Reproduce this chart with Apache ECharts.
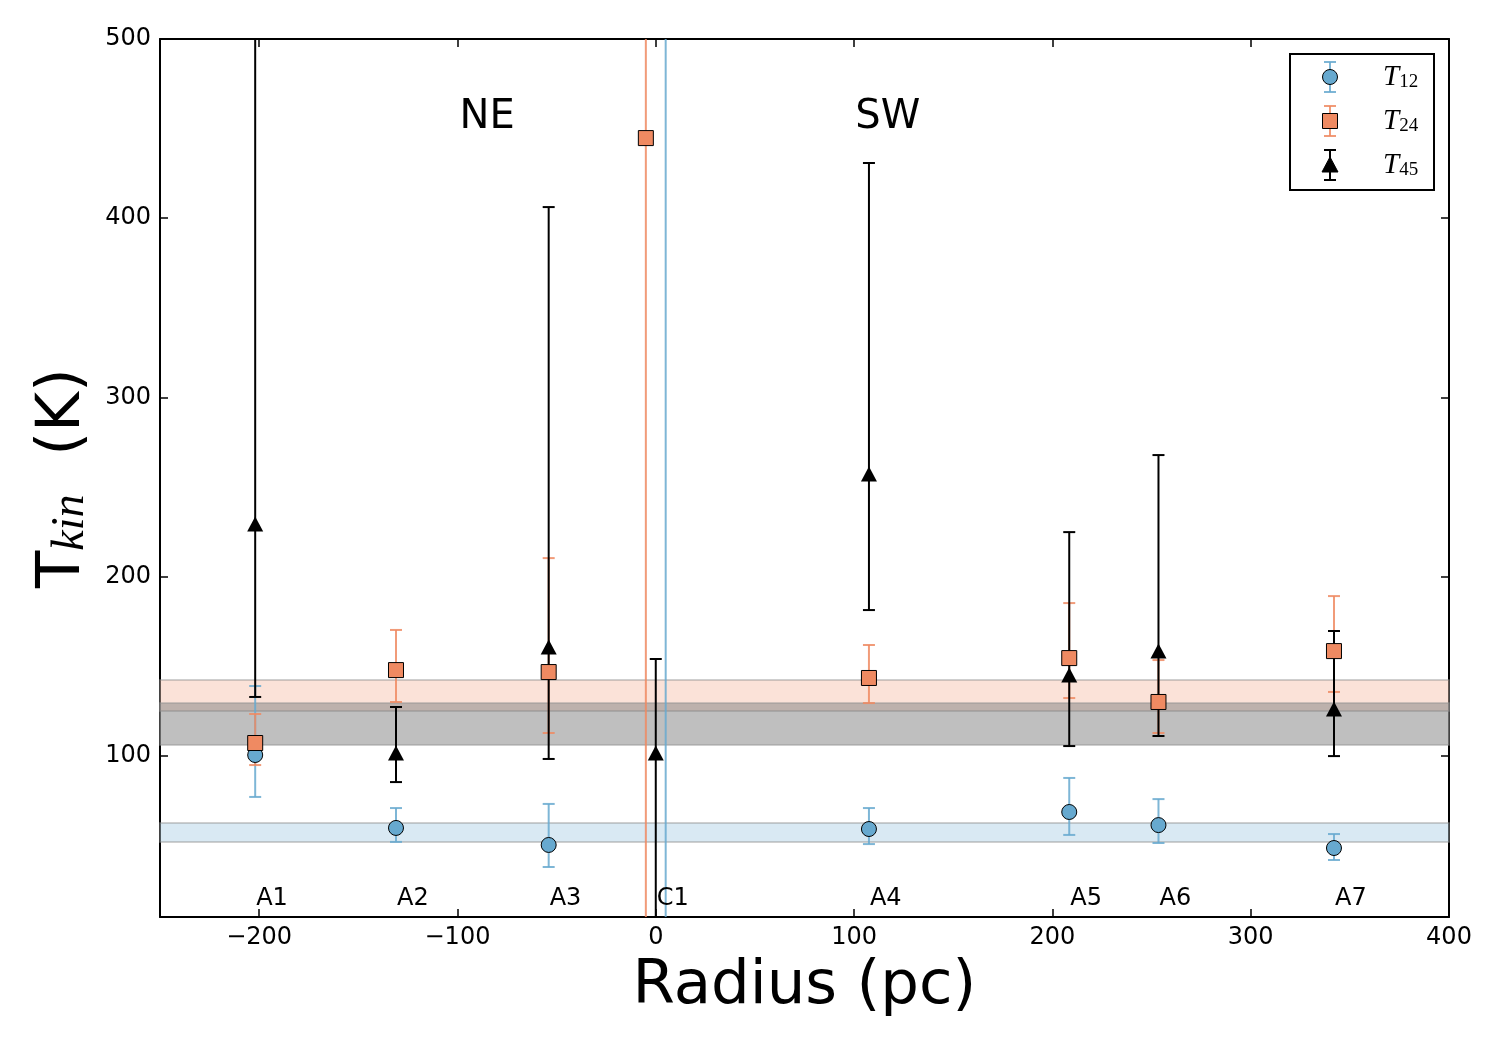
<!DOCTYPE html>
<html>
<head>
<meta charset="utf-8">
<title>Tkin vs radius</title>
<script src="https://cdn.jsdelivr.net/npm/echarts@6/dist/echarts.min.js"></script>
<style>
  html, body { margin: 0; padding: 0; background: #fff; }
  #chart { width: 1500px; height: 1050px; }
</style>
</head>
<body>
<div id="chart"></div>
<script>
// region names and the radius (pc) of each one
const regions = ['A1', 'A2', 'A3', 'C1', 'A4', 'A5', 'A6', 'A7'];
const xT12 = [-202, -131, -54, 5, 107.5, 208.5, 253.5, 342];
const xT24 = [-202, -131, -54, -5, 107.5, 208.5, 253.5, 342];
const xT45 = [-202, -131, -54, 0, 107.5, 208.5, 253.5, 342];

// kinetic temperatures (K) and their error bar ends
const t12 = [100.4, 59.7, 50.2, null, 59.1, 68.6, 61.3, 48.5];
const t12Lo = [77, 51.9, 37.9, -100, 50.7, 55.8, 51.3, 41.8];
const t12Hi = [138.9, 70.8, 73.1, 1000, 70.8, 87.6, 75.8, 56.3];

const t24 = [107.1, 147.8, 146.7, 444.7, 143.4, 154.5, 130, 158.4];
const t24Lo = [94.8, 130, 112.7, -100, 129.4, 132.2, 112.7, 135.6];
const t24Hi = [123.3, 170.2, 210.3, 1000, 161.8, 185.2, 153.4, 189.1];

const t45 = [229.3, 101.5, 160.7, 101.5, 257.2, 145, 158.4, 126.1];
const t45Lo = [132.8, 85.3, 98.2, -100, 181.3, 105.4, 111, 99.8];
const t45Hi = [600, 127.2, 406.2, 154, 430.8, 224.8, 267.8, 169.6];

// mean temperature bands [low, high]
const bandT12 = [51.9, 62.5];
const bandT24 = [125, 142.3];
const bandT45 = [106, 129.4];

// side labels
const sides = ['NE', 'SW'];
const sideX = [-85, 117];
const sideY = 456;
const regionLabelY = 20;

const xTicks = [-200, -100, 0, 100, 200, 300, 400];
const yTicks = [100, 200, 300, 400, 500];
const xMin = -250, xMax = 400, yMin = 10, yMax = 500;

const BLUE = '#67a9cf';
const ORANGE = '#ef8a62';
const FONT = 'DejaVu Sans';
const MATH = 'Liberation Serif';

function minus(v) {
  return String(v).replace('-', '\u2212');
}

function errRows(xs, lo, hi) {
  return xs.map((x, i) => [x, lo[i], hi[i]]);
}

function pts(xs, vs) {
  return xs.map((x, i) => [x, vs[i]]).filter(p => p[1] != null);
}

function errRender(color, width, opacity) {
  return function (params, api) {
    const x = api.value(0);
    const lo = api.value(1);
    const hi = api.value(2);
    const a = api.coord([x, Math.max(lo, yMin)]);
    const b = api.coord([x, Math.min(hi, yMax)]);
    const style = { stroke: color, lineWidth: width, opacity: opacity };
    const cap = 6;
    const kids = [{ type: 'line', shape: { x1: a[0], y1: a[1], x2: b[0], y2: b[1] }, style: style }];
    if (lo >= yMin) kids.push({ type: 'line', shape: { x1: a[0] - cap, y1: a[1], x2: a[0] + cap, y2: a[1] }, style: style });
    if (hi <= yMax) kids.push({ type: 'line', shape: { x1: b[0] - cap, y1: b[1], x2: b[0] + cap, y2: b[1] }, style: style });
    return { type: 'group', children: kids };
  };
}

function axisFrame(pos, isX) {
  return {
    type: 'value',
    position: pos,
    min: isX ? xMin : yMin,
    max: isX ? xMax : yMax,
    axisLine: { show: true, onZero: false, lineStyle: { color: '#000', width: 2 } },
    axisTick: { show: true, inside: true, length: 8, customValues: isX ? xTicks : yTicks, lineStyle: { color: '#000', width: 1.5 } },
    axisLabel: { show: false },
    splitLine: { show: false }
  };
}

// legend drawn by hand so that each key shows its error bar
const legendRows = [
  { sub: '12', color: BLUE, shape: 'circle', cy: 77 },
  { sub: '24', color: ORANGE, shape: 'square', cy: 121 },
  { sub: '45', color: '#000', shape: 'triangle', cy: 165 }
];
const legendGraphics = [{
  type: 'rect',
  shape: { x: 1290, y: 54, width: 144, height: 136 },
  style: { fill: '#fff', stroke: '#000', lineWidth: 2 },
  z: 100
}];
legendRows.forEach(r => {
  const cx = 1330, cy = r.cy;
  const es = { stroke: r.color, lineWidth: 2, opacity: r.shape === 'triangle' ? 1 : 0.85 };
  legendGraphics.push({ type: 'line', shape: { x1: cx, y1: cy - 15, x2: cx, y2: cy + 15 }, style: es, z: 101 });
  legendGraphics.push({ type: 'line', shape: { x1: cx - 6, y1: cy - 15, x2: cx + 6, y2: cy - 15 }, style: es, z: 101 });
  legendGraphics.push({ type: 'line', shape: { x1: cx - 6, y1: cy + 15, x2: cx + 6, y2: cy + 15 }, style: es, z: 101 });
  const ms = { fill: r.color, stroke: '#000', lineWidth: 1 };
  if (r.shape === 'circle') {
    legendGraphics.push({ type: 'circle', shape: { cx: cx, cy: cy, r: 7.5 }, style: ms, z: 102 });
  } else if (r.shape === 'square') {
    legendGraphics.push({ type: 'rect', shape: { x: cx - 7.5, y: cy - 7.5, width: 15, height: 15 }, style: ms, z: 102 });
  } else {
    legendGraphics.push({ type: 'polygon', shape: { points: [[cx, cy - 8], [cx - 8, cy + 7], [cx + 8, cy + 7]] }, style: ms, z: 102 });
  }
  legendGraphics.push({
    type: 'text',
    x: 1383, y: cy,
    style: {
      text: '{t|T}{s|' + r.sub + '}',
      verticalAlign: 'middle',
      rich: {
        t: { fontFamily: MATH, fontStyle: 'italic', fontSize: 29, lineHeight: 30, fill: '#000' },
        s: { fontFamily: MATH, fontSize: 19, lineHeight: 10, verticalAlign: 'bottom', fill: '#000' }
      }
    },
    z: 102
  });
});

const chart = echarts.init(document.getElementById('chart'), null, { renderer: 'canvas' });

const option = {
  backgroundColor: '#fff',
  animation: false,
  grid: { left: 160, right: 51, top: 39, bottom: 133 },
  xAxis: [
    {
      type: 'value',
      min: xMin,
      max: xMax,
      name: 'Radius (pc)',
      nameLocation: 'middle',
      nameGap: 40,
      nameTextStyle: { fontFamily: FONT, fontSize: 61, color: '#000' },
      axisLine: { show: true, onZero: false, lineStyle: { color: '#000', width: 2 } },
      axisTick: { show: true, inside: true, length: 8, customValues: xTicks, lineStyle: { color: '#000', width: 1.5 } },
      axisLabel: { customValues: xTicks, margin: 9, fontFamily: FONT, fontSize: 24, color: '#000', formatter: minus },
      splitLine: { show: false }
    },
    axisFrame('top', true)
  ],
  yAxis: [
    {
      type: 'value',
      min: yMin,
      max: yMax,
      name: '{a|T}{b|kin}{a|  (K)}',
      nameLocation: 'middle',
      nameGap: 66,
      nameRotate: 90,
      nameTextStyle: {
        color: '#000',
        rich: {
          a: { fontFamily: FONT, fontSize: 61, lineHeight: 62, color: '#000' },
          b: { fontFamily: MATH, fontStyle: 'italic', fontSize: 46, lineHeight: 22, verticalAlign: 'bottom', color: '#000' }
        }
      },
      axisLine: { show: true, onZero: false, lineStyle: { color: '#000', width: 2 } },
      axisTick: { show: true, inside: true, length: 8, customValues: yTicks, lineStyle: { color: '#000', width: 1.5 } },
      axisLabel: { customValues: yTicks, margin: 9, fontFamily: FONT, fontSize: 24, color: '#000' },
      splitLine: { show: false }
    },
    axisFrame('right', false)
  ],
  graphic: legendGraphics,
  series: [
    {
      name: 'bands',
      type: 'scatter',
      data: [],
      z: 1,
      markArea: {
        silent: true,
        data: [
          [{ yAxis: bandT24[0], itemStyle: { color: 'rgba(239,138,98,0.25)', borderColor: 'rgba(150,150,150,0.6)', borderWidth: 1.5 } }, { yAxis: bandT24[1] }],
          [{ yAxis: bandT45[0], itemStyle: { color: 'rgba(128,128,128,0.5)', borderColor: 'rgba(150,150,150,0.6)', borderWidth: 1.5 } }, { yAxis: bandT45[1] }],
          [{ yAxis: bandT12[0], itemStyle: { color: 'rgba(103,169,207,0.25)', borderColor: 'rgba(150,150,150,0.6)', borderWidth: 1.5 } }, { yAxis: bandT12[1] }]
        ]
      }
    },
    {
      name: 'T12 err', type: 'custom', z: 3, clip: true,
      renderItem: errRender(BLUE, 2, 0.85),
      data: errRows(xT12, t12Lo, t12Hi)
    },
    {
      name: 'T24 err', type: 'custom', z: 3, clip: true,
      renderItem: errRender(ORANGE, 2, 0.85),
      data: errRows(xT24, t24Lo, t24Hi)
    },
    {
      name: 'T45 err', type: 'custom', z: 3, clip: true,
      renderItem: errRender('#000', 2, 1),
      data: errRows(xT45, t45Lo, t45Hi)
    },
    {
      name: 'T12', type: 'scatter', z: 4, symbol: 'circle', symbolSize: 15,
      itemStyle: { color: BLUE, borderColor: '#000', borderWidth: 1, opacity: 1 },
      data: pts(xT12, t12)
    },
    {
      name: 'T24', type: 'scatter', z: 5, symbol: 'rect', symbolSize: 15,
      itemStyle: { color: ORANGE, borderColor: '#000', borderWidth: 1, opacity: 1 },
      data: pts(xT24, t24)
    },
    {
      name: 'T45', type: 'scatter', z: 6, symbol: 'triangle', symbolSize: [16, 15],
      itemStyle: { color: '#000', opacity: 1 },
      data: pts(xT45, t45)
    },
    {
      name: 'regions', type: 'scatter', z: 7, symbolSize: 0, silent: true,
      itemStyle: { opacity: 1 },
      data: regions.map((r, i) => ({ name: r, value: [xT45[i], regionLabelY] })),
      label: { show: true, position: 'right', distance: 1, formatter: '{b}', fontFamily: FONT, fontSize: 24, color: '#000', opacity: 1 }
    },
    {
      name: 'sides', type: 'scatter', z: 7, symbolSize: 0, silent: true,
      itemStyle: { opacity: 1 },
      data: sides.map((s, i) => ({ name: s, value: [sideX[i], sideY] })),
      label: { show: true, position: 'inside', formatter: '{b}', fontFamily: FONT, fontSize: 40, color: '#000', opacity: 1 }
    }
  ]
};

chart.setOption(option);
</script>
</body>
</html>
